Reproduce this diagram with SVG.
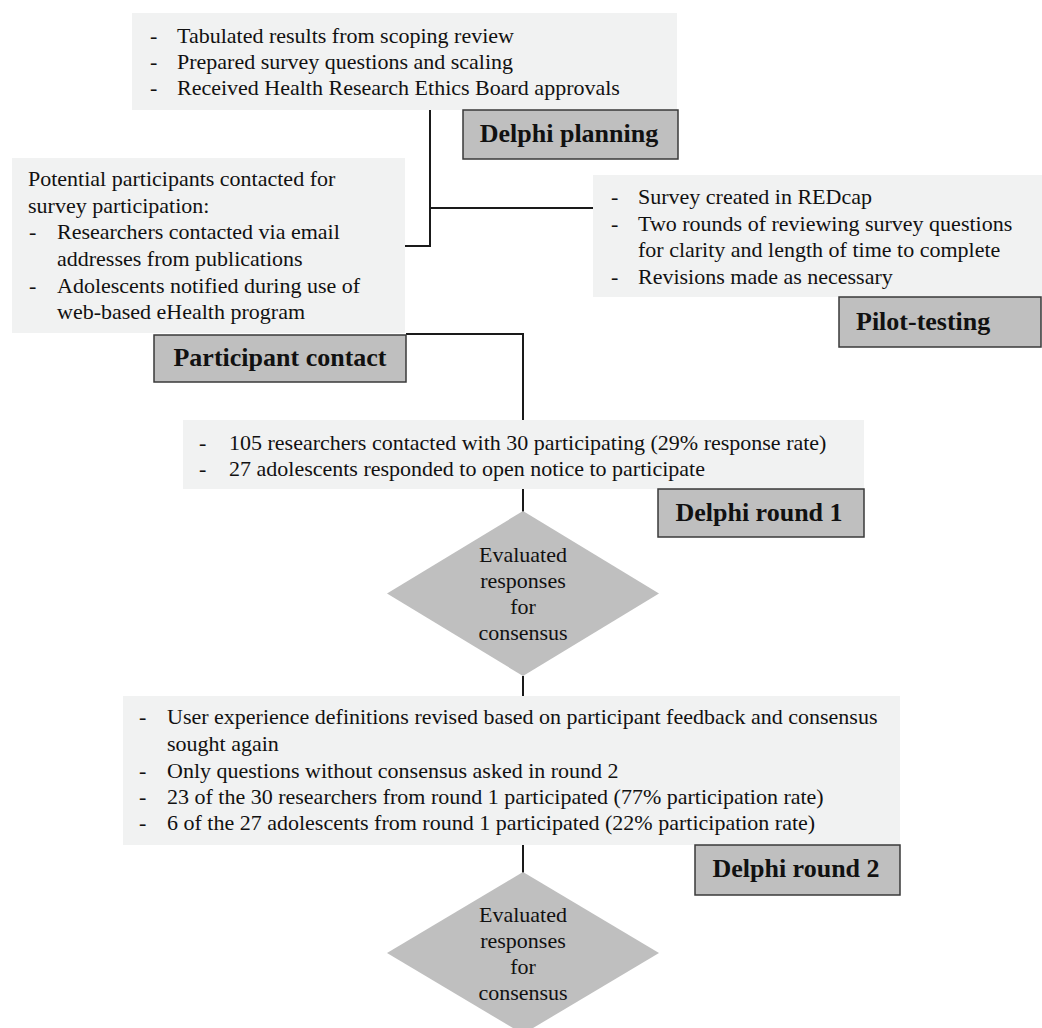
<svg xmlns="http://www.w3.org/2000/svg" width="1042" height="1028" viewBox="0 0 1042 1028">
<style>
.box{fill:#f1f2f2}
.lbl{fill:#bfbfbf;stroke:#3a3a3a;stroke-width:1.5}
.dia{fill:#bfbfbf}
.t{font-family:"Liberation Serif","Times New Roman",serif;font-size:22px;fill:#111}
.b{font-family:"Liberation Serif","Times New Roman",serif;font-size:26px;font-weight:bold;fill:#111}
.c{text-anchor:middle}
.ln{fill:none;stroke:#1a1a1a;stroke-width:2}
</style>
<rect width="1042" height="1028" fill="#fff"/>
<g id="connectors">
<path class="ln" d="M430,110 V246 H405"/>
<path class="ln" d="M430,208 H593"/>
<path class="ln" d="M406,334 H523 V420"/>
<path class="ln" d="M523,489 V512"/>
<path class="ln" d="M523,676 V696"/>
<path class="ln" d="M523,845 V873"/>
</g>
<g id="planning">
<rect class="box" x="132" y="13" width="545" height="97"/>
<text class="t" x="150" y="43">-</text><text class="t" x="177" y="43">Tabulated results from scoping review</text>
<text class="t" x="150" y="69">-</text><text class="t" x="177" y="69">Prepared survey questions and scaling</text>
<text class="t" x="150" y="95">-</text><text class="t" x="177" y="95">Received Health Research Ethics Board approvals</text>
</g>
<g id="planning-label">
<rect class="lbl" x="463" y="110" width="215" height="49"/>
<text class="b c" x="569" y="142">Delphi planning</text>
</g>
<g id="contact">
<rect class="box" x="12" y="158" width="393" height="175"/>
<text class="t" x="28" y="186">Potential participants contacted for</text>
<text class="t" x="28" y="213">survey participation:</text>
<text class="t" x="29" y="239">-</text><text class="t" x="57" y="239">Researchers contacted via email</text>
<text class="t" x="57" y="266">addresses from publications</text>
<text class="t" x="29" y="293">-</text><text class="t" x="57" y="293">Adolescents notified during use of</text>
<text class="t" x="57" y="319">web-based eHealth program</text>
</g>
<g id="contact-label">
<rect class="lbl" x="154" y="335" width="252" height="47"/>
<text class="b c" x="280" y="366">Participant contact</text>
</g>
<g id="pilot">
<rect class="box" x="593" y="175" width="449" height="122"/>
<text class="t" x="611" y="204">-</text><text class="t" x="638" y="204">Survey created in REDcap</text>
<text class="t" x="611" y="231">-</text><text class="t" x="638" y="231">Two rounds of reviewing survey questions</text>
<text class="t" x="638" y="257">for clarity and length of time to complete</text>
<text class="t" x="611" y="284">-</text><text class="t" x="638" y="284">Revisions made as necessary</text>
</g>
<g id="pilot-label">
<rect class="lbl" x="839" y="297" width="202" height="50"/>
<text class="b" x="856" y="330">Pilot-testing</text>
</g>
<g id="round1">
<rect class="box" x="183" y="420" width="681" height="69"/>
<text class="t" x="199" y="450">-</text><text class="t" x="229" y="450">105 researchers contacted with 30 participating (29% response rate)</text>
<text class="t" x="199" y="476">-</text><text class="t" x="229" y="476">27 adolescents responded to open notice to participate</text>
</g>
<g id="round1-label">
<rect class="lbl" x="658" y="489" width="206" height="48"/>
<text class="b c" x="759" y="521">Delphi round 1</text>
</g>
<g id="eval1">
<polygon class="dia" points="523,511 659,593.5 523,676 387,593.5"/>
<text class="t c" x="523" y="562">Evaluated</text>
<text class="t c" x="523" y="588">responses</text>
<text class="t c" x="523" y="614">for</text>
<text class="t c" x="523" y="640">consensus</text>
</g>
<g id="round2">
<rect class="box" x="123" y="696" width="777" height="149"/>
<text class="t" x="139" y="724">-</text><text class="t" x="167" y="724">User experience definitions revised based on participant feedback and consensus</text>
<text class="t" x="167" y="751">sought again</text>
<text class="t" x="139" y="778">-</text><text class="t" x="167" y="778">Only questions without consensus asked in round 2</text>
<text class="t" x="139" y="804">-</text><text class="t" x="167" y="804">23 of the 30 researchers from round 1 participated (77% participation rate)</text>
<text class="t" x="139" y="830">-</text><text class="t" x="167" y="830">6 of the 27 adolescents from round 1 participated (22% participation rate)</text>
</g>
<g id="round2-label">
<rect class="lbl" x="695" y="845" width="205" height="50"/>
<text class="b c" x="796" y="877">Delphi round 2</text>
</g>
<g id="eval2">
<polygon class="dia" points="523,872 659,953 523,1034 387,953"/>
<text class="t c" x="523" y="922">Evaluated</text>
<text class="t c" x="523" y="948">responses</text>
<text class="t c" x="523" y="974">for</text>
<text class="t c" x="523" y="1000">consensus</text>
</g>
</svg>
